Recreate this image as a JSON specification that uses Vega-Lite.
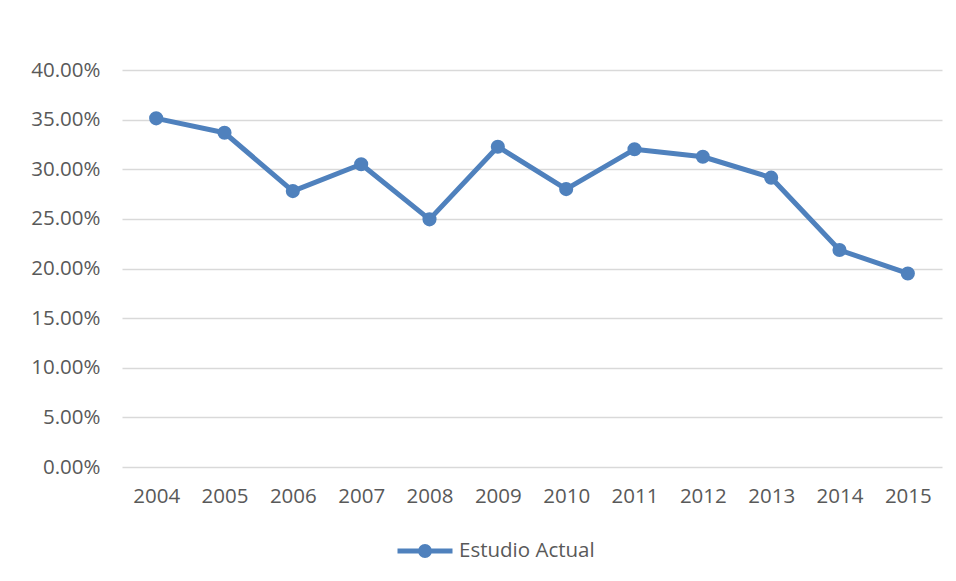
{
  "$schema": "https://vega.github.io/schema/vega-lite/v6.json",
  "width": 820,
  "height": 397,
  "autosize": {"type": "none"},
  "padding": {"left": 122, "top": 70, "right": 14, "bottom": 114},
  "background": "white",
  "config": {
    "view": {"stroke": null},
    "font": "Open Sans",
    "axis": {"labelColor": "#595959", "labelFontSize": 20.5, "labelFont": "Open Sans"}
  },
  "data": {
    "values": [
      {"year": "2004", "value": 0.3513, "serie": "Estudio Actual"},
      {"year": "2005", "value": 0.3368, "serie": "Estudio Actual"},
      {"year": "2006", "value": 0.278, "serie": "Estudio Actual"},
      {"year": "2007", "value": 0.305, "serie": "Estudio Actual"},
      {"year": "2008", "value": 0.2495, "serie": "Estudio Actual"},
      {"year": "2009", "value": 0.3227, "serie": "Estudio Actual"},
      {"year": "2010", "value": 0.28, "serie": "Estudio Actual"},
      {"year": "2011", "value": 0.3201, "serie": "Estudio Actual"},
      {"year": "2012", "value": 0.3126, "serie": "Estudio Actual"},
      {"year": "2013", "value": 0.2915, "serie": "Estudio Actual"},
      {"year": "2014", "value": 0.2186, "serie": "Estudio Actual"},
      {"year": "2015", "value": 0.195, "serie": "Estudio Actual"}
    ]
  },
  "encoding": {
    "x": {
      "field": "year",
      "type": "ordinal",
      "scale": {"type": "point", "padding": 0.5},
      "axis": {"title": null, "labelAngle": 0, "ticks": false, "domain": false, "labelPadding": 19, "grid": false}
    },
    "y": {
      "field": "value",
      "type": "quantitative",
      "scale": {"domain": [0, 0.4]},
      "axis": {
        "title": null,
        "format": ".2%",
        "values": [0, 0.05, 0.1, 0.15, 0.2, 0.25, 0.3, 0.35, 0.4],
        "ticks": false,
        "domain": false,
        "gridColor": "#d9d9d9",
        "gridWidth": 1.5,
        "labelPadding": 22
      }
    },
    "color": {
      "field": "serie",
      "type": "nominal",
      "scale": {"range": ["#4f81bd"]},
      "legend": {
        "title": null,
        "orient": "none",
        "legendX": 273,
        "legendY": 451,
        "padding": 0,
        "symbolType": "M-1,0L1,0M-0.16,0A0.16,0.16 0 1 0 0.16,0A0.16,0.16 0 1 0 -0.16,0",
        "symbolSize": 3025,
        "symbolStrokeWidth": 5,
        "symbolFillColor": "#4f81bd",
        "symbolStrokeColor": "#4f81bd",
        "labelFontSize": 20.5,
        "labelColor": "#595959",
        "labelFont": "Open Sans",
        "labelOffset": 4
      }
    }
  },
  "layer": [
    {"mark": {"type": "line", "strokeWidth": 5, "strokeCap": "round", "strokeJoin": "round"}},
    {"mark": {"type": "point", "filled": true, "size": 200, "opacity": 1}}
  ]
}
